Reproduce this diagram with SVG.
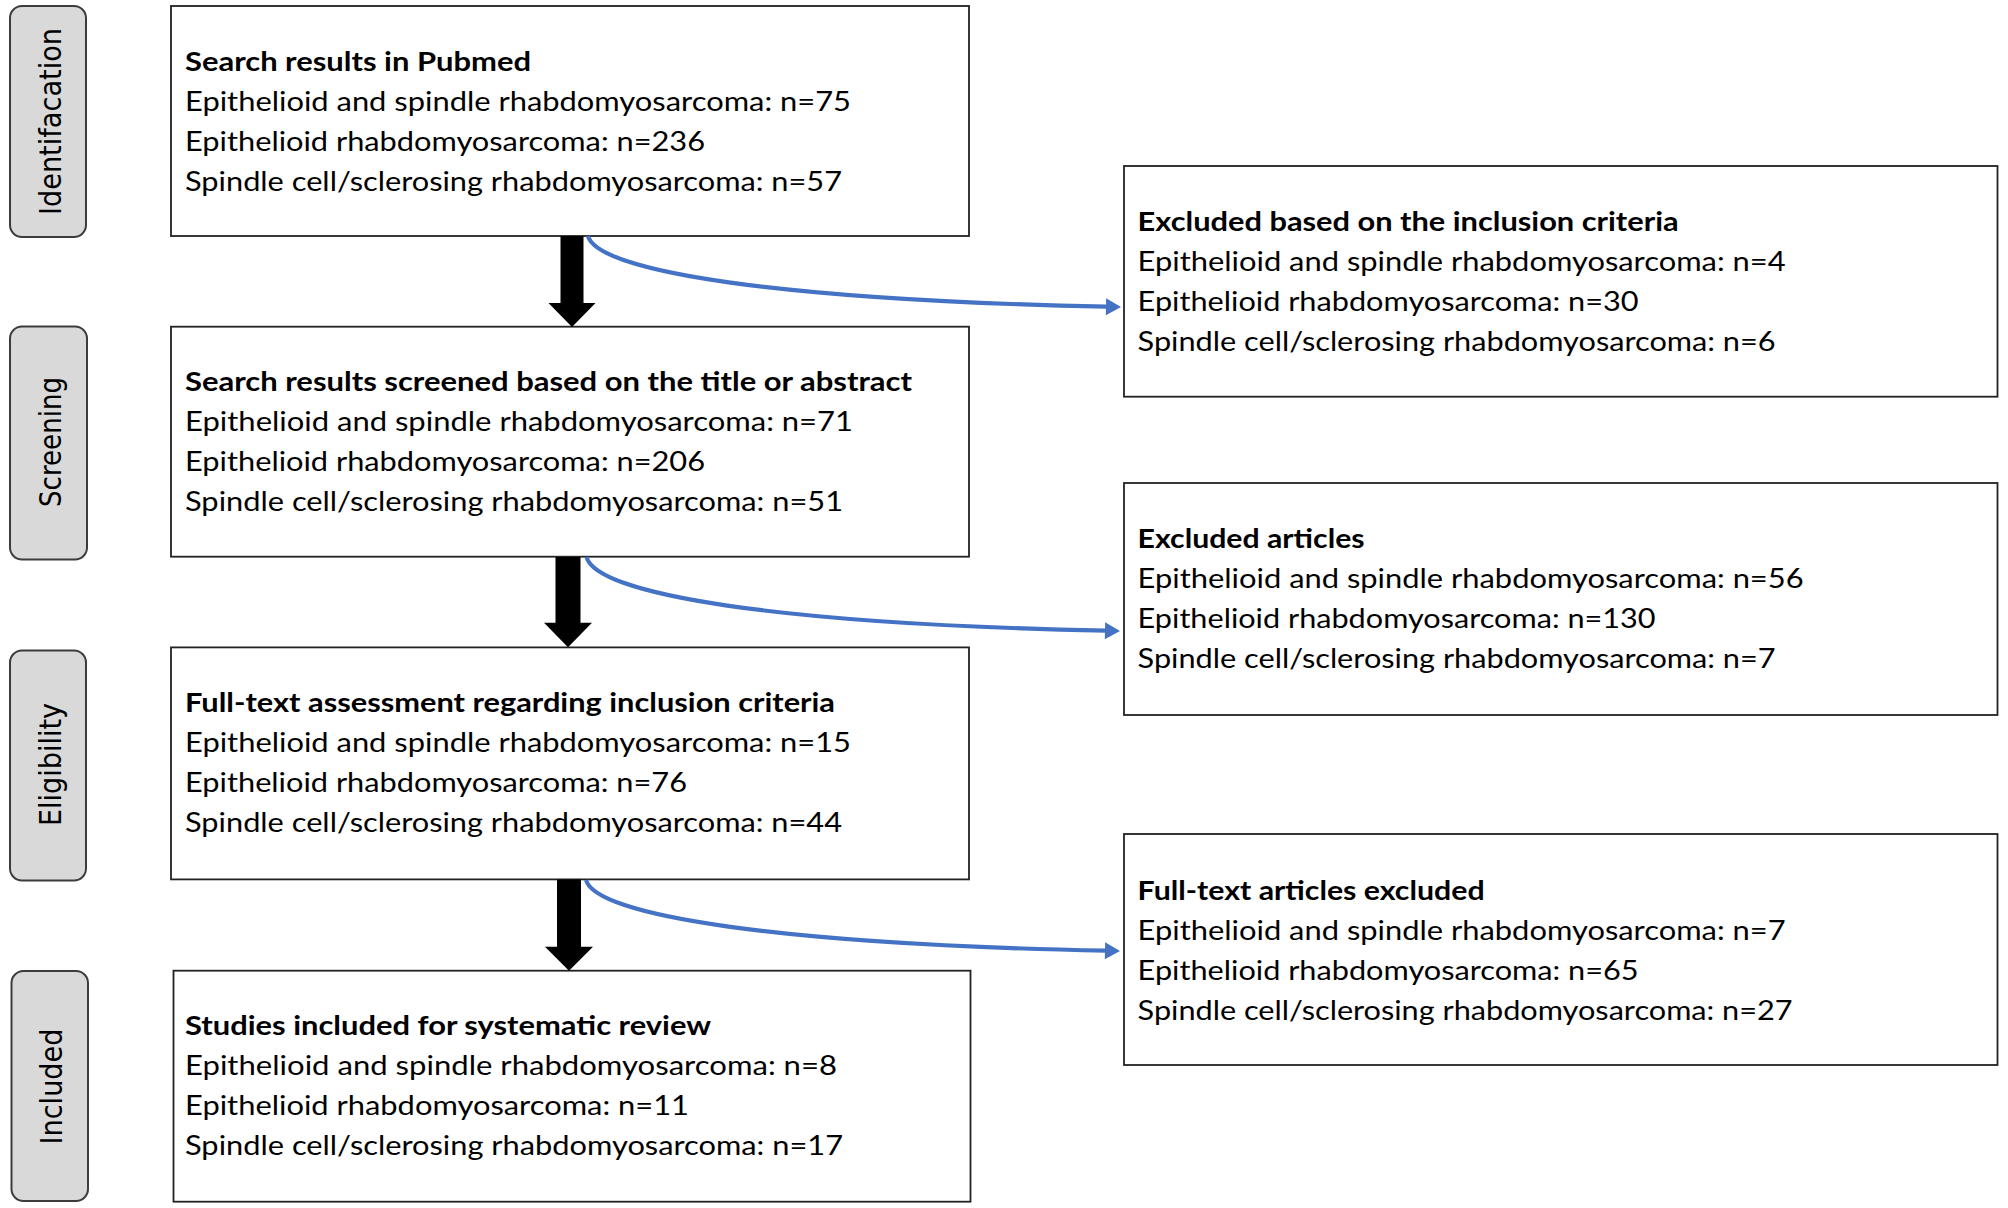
<svg xmlns="http://www.w3.org/2000/svg" width="2008" height="1208" viewBox="0 0 2008 1208">
<style>
.bg{fill:#ffffff}
.stage rect{fill:#d9d9d9;stroke:#3c3c3c;stroke-width:2}
.stage text{font-family:"DejaVu Sans",Verdana,sans-serif;font-size:31px;fill:#000;text-anchor:middle}
.box rect{fill:#ffffff;stroke:#222;stroke-width:1.8}
.box text{font-family:Lato,"Open Sans",sans-serif;font-size:27px;fill:#000}
.box text.b{font-weight:700}
.blk{fill:#000}
.blue{fill:none;stroke:#4472c4;stroke-width:4.2}
</style>
<defs>
<marker id="bh" markerUnits="userSpaceOnUse" markerWidth="20" markerHeight="20" viewBox="0 -10 16 20" refX="1" refY="0" orient="auto">
<path d="M0,-8.5 L15,0 L0,8.5 z" fill="#4472c4"/>
</marker>
</defs>
<rect class="bg" x="0" y="0" width="2008" height="1208"/>

<g id="stage-identification" class="stage">
<rect x="10" y="6" width="76" height="231" rx="12"/>
<text transform="translate(61,121.5) rotate(-90)" textLength="187" lengthAdjust="spacingAndGlyphs">Identifacation</text>
</g>
<g id="stage-screening" class="stage">
<rect x="10" y="326.5" width="77" height="233" rx="12"/>
<text transform="translate(61,442) rotate(-90)" textLength="130" lengthAdjust="spacingAndGlyphs">Screening</text>
</g>
<g id="stage-eligibility" class="stage">
<rect x="10" y="650.5" width="76" height="230" rx="12"/>
<text transform="translate(61,764.5) rotate(-90)" textLength="123" lengthAdjust="spacingAndGlyphs">Eligibility</text>
</g>
<g id="stage-included" class="stage">
<rect x="11.5" y="971" width="76.5" height="230" rx="12"/>
<text transform="translate(62,1086.5) rotate(-90)" textLength="116" lengthAdjust="spacingAndGlyphs">Included</text>
</g>

<g id="box-search" class="box">
<rect x="171" y="6" width="798" height="230"/>
<text class="b" x="185" y="71" textLength="346" lengthAdjust="spacingAndGlyphs">Search results in Pubmed</text>
<text x="185" y="111" textLength="666" lengthAdjust="spacingAndGlyphs">Epithelioid and spindle rhabdomyosarcoma: n=75</text>
<text x="185" y="151" textLength="520" lengthAdjust="spacingAndGlyphs">Epithelioid rhabdomyosarcoma: n=236</text>
<text x="185" y="191" textLength="657" lengthAdjust="spacingAndGlyphs">Spindle cell/sclerosing rhabdomyosarcoma: n=57</text>
</g>

<g id="box-screened" class="box">
<rect x="171" y="326.7" width="798" height="230"/>
<text class="b" x="185" y="391" textLength="727" lengthAdjust="spacingAndGlyphs">Search results screened based on the title or abstract</text>
<text x="185" y="431" textLength="668" lengthAdjust="spacingAndGlyphs">Epithelioid and spindle rhabdomyosarcoma: n=71</text>
<text x="185" y="471" textLength="520" lengthAdjust="spacingAndGlyphs">Epithelioid rhabdomyosarcoma: n=206</text>
<text x="185" y="511" textLength="658" lengthAdjust="spacingAndGlyphs">Spindle cell/sclerosing rhabdomyosarcoma: n=51</text>
</g>

<g id="box-fulltext" class="box">
<rect x="171" y="647.4" width="798" height="232"/>
<text class="b" x="185" y="712" textLength="650" lengthAdjust="spacingAndGlyphs">Full-text assessment regarding inclusion criteria</text>
<text x="185" y="752" textLength="666" lengthAdjust="spacingAndGlyphs">Epithelioid and spindle rhabdomyosarcoma: n=15</text>
<text x="185" y="792" textLength="502" lengthAdjust="spacingAndGlyphs">Epithelioid rhabdomyosarcoma: n=76</text>
<text x="185" y="832" textLength="657" lengthAdjust="spacingAndGlyphs">Spindle cell/sclerosing rhabdomyosarcoma: n=44</text>
</g>

<g id="box-included" class="box">
<rect x="173.5" y="970.7" width="797" height="231"/>
<text class="b" x="185" y="1035" textLength="526" lengthAdjust="spacingAndGlyphs">Studies included for systematic review</text>
<text x="185" y="1075" textLength="652" lengthAdjust="spacingAndGlyphs">Epithelioid and spindle rhabdomyosarcoma: n=8</text>
<text x="185" y="1115" textLength="504" lengthAdjust="spacingAndGlyphs">Epithelioid rhabdomyosarcoma: n=11</text>
<text x="185" y="1155" textLength="658" lengthAdjust="spacingAndGlyphs">Spindle cell/sclerosing rhabdomyosarcoma: n=17</text>
</g>

<g id="box-excluded-criteria" class="box">
<rect x="1124" y="166" width="873.5" height="230.7"/>
<text class="b" x="1137.6" y="231" textLength="541" lengthAdjust="spacingAndGlyphs">Excluded based on the inclusion criteria</text>
<text x="1137.6" y="271" textLength="648" lengthAdjust="spacingAndGlyphs">Epithelioid and spindle rhabdomyosarcoma: n=4</text>
<text x="1137.6" y="311" textLength="501" lengthAdjust="spacingAndGlyphs">Epithelioid rhabdomyosarcoma: n=30</text>
<text x="1137.6" y="351" textLength="638" lengthAdjust="spacingAndGlyphs">Spindle cell/sclerosing rhabdomyosarcoma: n=6</text>
</g>

<g id="box-excluded-articles" class="box">
<rect x="1124" y="483" width="873.5" height="232"/>
<text class="b" x="1137.6" y="548" textLength="227" lengthAdjust="spacingAndGlyphs">Excluded articles</text>
<text x="1137.6" y="588" textLength="666" lengthAdjust="spacingAndGlyphs">Epithelioid and spindle rhabdomyosarcoma: n=56</text>
<text x="1137.6" y="628" textLength="518" lengthAdjust="spacingAndGlyphs">Epithelioid rhabdomyosarcoma: n=130</text>
<text x="1137.6" y="668" textLength="638" lengthAdjust="spacingAndGlyphs">Spindle cell/sclerosing rhabdomyosarcoma: n=7</text>
</g>

<g id="box-fulltext-excluded" class="box">
<rect x="1124" y="834" width="873.5" height="231"/>
<text class="b" x="1137.6" y="900" textLength="347" lengthAdjust="spacingAndGlyphs">Full-text articles excluded</text>
<text x="1137.6" y="940" textLength="648" lengthAdjust="spacingAndGlyphs">Epithelioid and spindle rhabdomyosarcoma: n=7</text>
<text x="1137.6" y="980" textLength="501" lengthAdjust="spacingAndGlyphs">Epithelioid rhabdomyosarcoma: n=65</text>
<text x="1137.6" y="1020" textLength="655" lengthAdjust="spacingAndGlyphs">Spindle cell/sclerosing rhabdomyosarcoma: n=27</text>
</g>

<g id="connectors">
<polygon class="blk" points="560.5,236 583.5,236 583.5,303 595.5,303 572,327 548.5,303 560.5,303"/>
<polygon class="blk" points="555.5,557 580.5,557 580.5,622.7 592,622.7 568,647.3 544,622.7 555.5,622.7"/>
<polygon class="blk" points="557,879.4 581,879.4 581,946.7 593,946.7 569,970.7 545,946.7 557,946.7"/>
<path class="blue" marker-end="url(#bh)" d="M588,236 C598,272 780,300 1107,306.7"/>
<path class="blue" marker-end="url(#bh)" d="M586.5,557 C596.5,595 778.5,624 1106,630.7"/>
<path class="blue" marker-end="url(#bh)" d="M586,880 C596,916 778,944 1106,950.7"/>
</g>
</svg>
